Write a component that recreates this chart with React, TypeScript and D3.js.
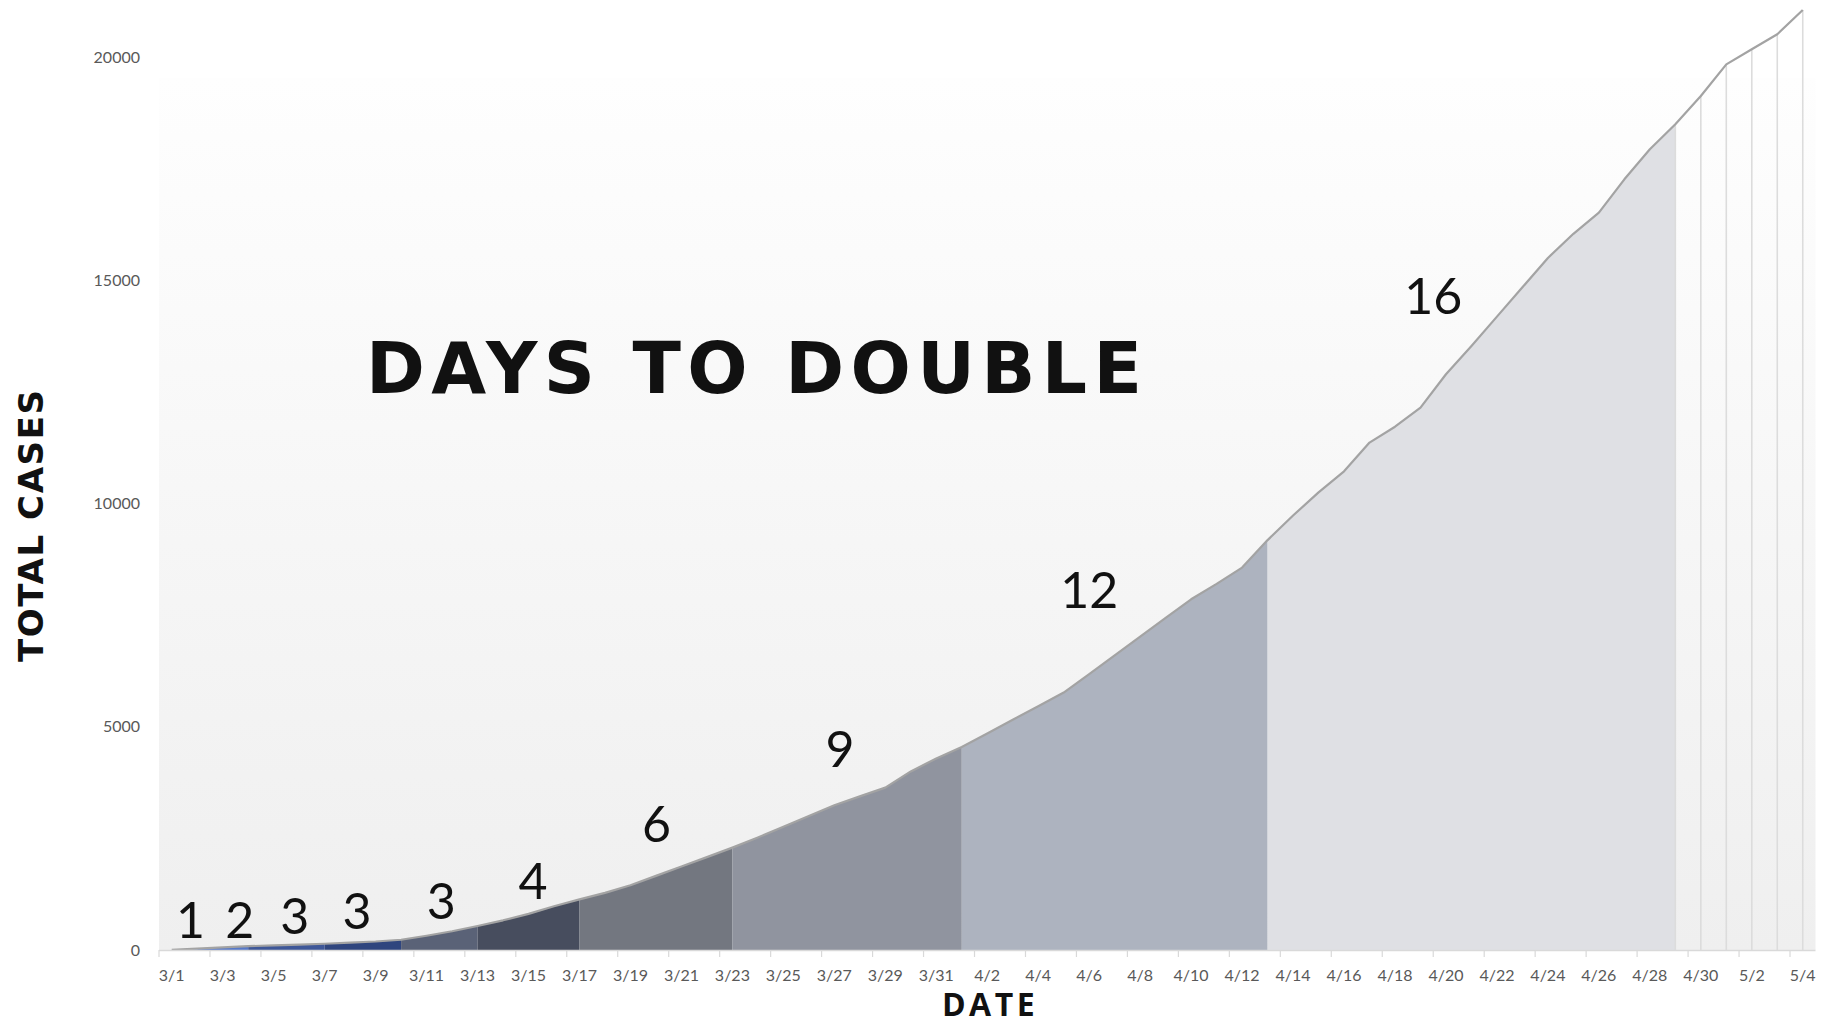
import React from "react";
import * as d3 from "d3";

const dates: string[] = [
  "3/1","3/2","3/3","3/4","3/5","3/6","3/7","3/8","3/9","3/10",
  "3/11","3/12","3/13","3/14","3/15","3/16","3/17","3/18","3/19","3/20",
  "3/21","3/22","3/23","3/24","3/25","3/26","3/27","3/28","3/29","3/30",
  "3/31","4/1","4/2","4/3","4/4","4/5","4/6","4/7","4/8","4/9",
  "4/10","4/11","4/12","4/13","4/14","4/15","4/16","4/17","4/18","4/19",
  "4/20","4/21","4/22","4/23","4/24","4/25","4/26","4/27","4/28","4/29",
  "4/30","5/1","5/2","5/3","5/4",
];

const totalCases: number[] = [
  5, 30, 60, 85, 105, 120, 140, 165, 190, 230,
  320, 420, 537, 665, 810, 980, 1135, 1280, 1450, 1660,
  1870, 2080, 2293, 2520, 2760, 3000, 3240, 3440, 3637, 4000,
  4290, 4547, 4850, 5155, 5460, 5765, 6180, 6600, 7020, 7440,
  7855, 8200, 8564, 9180, 9730, 10250, 10720, 11364, 11720, 12148,
  12894, 13527, 14185, 14843, 15500, 16040, 16515, 17261, 17933, 18493,
  19126, 19836, 20172, 20508, 21053,
];

// doubling-time segments
const segmentStarts: string[] = ["3/1", "3/2", "3/4", "3/7", "3/10", "3/13", "3/17", "3/23", "4/1", "4/13"];
const segmentEnds: string[] = ["3/2", "3/4", "3/7", "3/10", "3/13", "3/17", "3/23", "4/1", "4/13", "4/29"];
const daysToDouble: number[] = [1, 2, 3, 3, 3, 4, 6, 9, 12, 16];
// label anchors (date index offset, cases) for each doubling number
const labelDay: number[] = [0.74, 2.67, 4.83, 7.27, 10.58, 14.18, 19.02, 26.22, 36.0, 49.5];
const labelCases: number[] = [690, 690, 790, 900, 1110, 1570, 2840, 4530, 8080, 14670];

// days after the last segment drawn with separator lines
const separatorDays: string[] = ["4/30", "5/1", "5/2", "5/3", "5/4"];

const yTicks: number[] = [0, 5000, 10000, 15000, 20000];
const xTickLabels: string[] = dates.filter((_, i) => i % 2 === 0);

const segmentColors = [
  "#6f98e6", "#5779c8", "#3e5798", "#2f457e", "#5a6277",
  "#474d5e", "#737780", "#90949f", "#adb3bf", "#dfe0e4",
];

export default function App() {
  const W = 1824;
  const H = 1027;
  const x = d3.scaleLinear().domain([-0.5, dates.length - 0.5]).range([159, 1815.5]);
  const y = d3.scaleLinear().domain([0, 20000]).range([950, 57]);
  const idx = (d: string) => dates.indexOf(d);

  const area = d3
    .area<number>()
    .x((i) => x(i))
    .y0(y(0))
    .y1((i) => y(totalCases[i]));
  const line = d3
    .line<number>()
    .x((i) => x(i))
    .y((i) => y(totalCases[i]));

  const allIdx = d3.range(dates.length);

  return (
    <div style={{ position: "absolute", left: 0, top: 0 }}>
      <svg width={W} height={H} style={{ display: "block", background: "#fff" }}>
        <defs>
          <linearGradient id="bg" x1="0" y1="0" x2="0" y2="1">
            <stop offset="0" stopColor="#fefefe" />
            <stop offset="1" stopColor="#efefef" />
          </linearGradient>
        </defs>
        <rect x={x(-0.5)} y={78} width={x(dates.length - 0.5) - x(-0.5)} height={y(0) - 78} fill="url(#bg)" />

        {segmentStarts.map((s, k) => {
          const a = idx(s);
          const b = idx(segmentEnds[k]);
          return <path key={k} d={area(d3.range(a, b + 1)) || ""} fill={segmentColors[k]} />;
        })}

        {[segmentEnds[segmentEnds.length - 1], ...separatorDays].map((d, k) => {
          const i = idx(d);
          return (
            <line
              key={k}
              x1={x(i)}
              x2={x(i)}
              y1={y(0)}
              y2={y(totalCases[i])}
              stroke="#dcdcdc"
              strokeWidth={1.6}
            />
          );
        })}

        <path d={line(allIdx) || ""} fill="none" stroke="#a3a3a3" strokeWidth={2.2} strokeLinejoin="round" />

        {/* x axis */}
        <line x1={x(-0.5)} x2={x(dates.length - 0.5)} y1={y(0) + 0.5} y2={y(0) + 0.5} stroke="#d9d9d9" strokeWidth={1.5} />
        {xTickLabels.map((lab) => {
          const i = idx(lab);
          return (
            <g key={lab}>
              <line x1={x(i - 0.5)} x2={x(i - 0.5)} y1={y(0)} y2={y(0) + 7} stroke="#d9d9d9" strokeWidth={1.2} />
              <text
                x={x(i)}
                y={974}
                textAnchor="middle"
                dominantBaseline="central"
                fontFamily="Lato, sans-serif"
                fontSize={16}
                fill="#595959"
              >
                {lab}
              </text>
            </g>
          );
        })}

        {/* y axis labels */}
        {yTicks.map((t) => (
          <text
            key={t}
            x={140}
            y={y(t) - 1}
            textAnchor="end"
            dominantBaseline="central"
            fontFamily="Lato, sans-serif"
            fontSize={16}
            fill="#595959"
          >
            {t}
          </text>
        ))}

        {/* doubling labels */}
        {daysToDouble.map((n, k) => (
          <text
            key={k}
            x={x(labelDay[k])}
            y={y(labelCases[k])}
            textAnchor="middle"
            dominantBaseline="central"
            fontFamily="Lato, sans-serif"
            fontSize={50}
            fill="#111"
          >
            {n}
          </text>
        ))}

        <text
          x={366}
          y={393}
          textLength={776}
          lengthAdjust="spacing"
          fontFamily="'DejaVu Sans', sans-serif"
          fontWeight={700}
          fontSize={71}
          fill="#111"
        >
          DAYS TO DOUBLE
        </text>

        <text
          transform="translate(43,526) rotate(-90)"
          textAnchor="middle"
          textLength={272}
          lengthAdjust="spacing"
          fontFamily="'DejaVu Sans', sans-serif"
          fontWeight={700}
          fontSize={34}
          fill="#111"
        >
          TOTAL CASES
        </text>

        <text
          x={990}
          y={1016}
          textAnchor="middle"
          fontFamily="'Open Sans', sans-serif"
          fontWeight={700}
          fontSize={32}
          letterSpacing={3.5}
          fill="#111"
        >
          DATE
        </text>
      </svg>
    </div>
  );
}
